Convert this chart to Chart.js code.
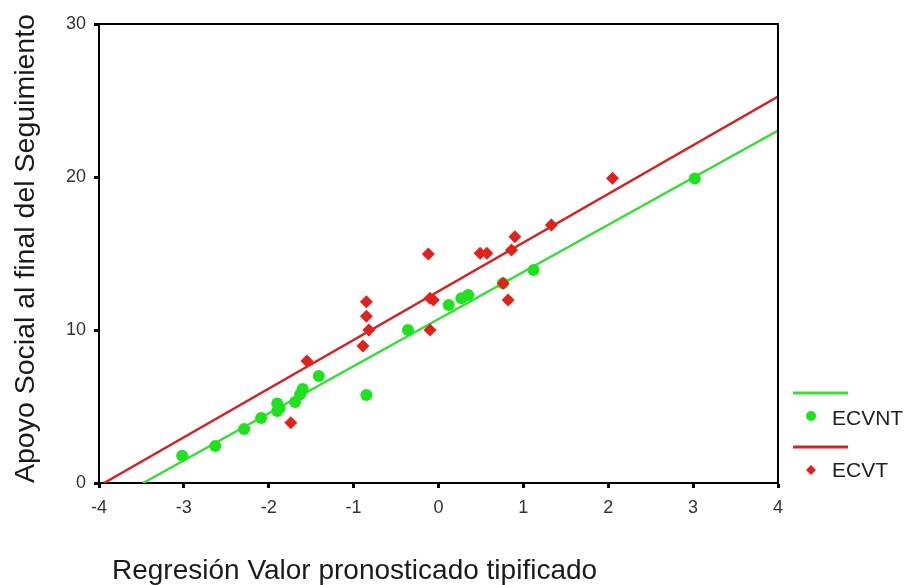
<!DOCTYPE html>
<html>
<head>
<meta charset="utf-8">
<script src="https://cdn.jsdelivr.net/npm/chart.js@4"></script>
<style>
  html, body { margin: 0; padding: 0; background: #fff; }
  #wrap { width: 908px; height: 585px; }
</style>
</head>
<body>
<div id="wrap"><canvas id="c" width="908" height="585"></canvas></div>
<script>
// ---- data ----
const xTickLabels = [-4, -3, -2, -1, 0, 1, 2, 3, 4];
const yTickLabels = [0, 10, 20, 30];

const ecvntX = [-3.02, -2.63, -2.29, -2.09, -1.90, -1.90, -1.87, -1.69, -1.60, -1.63, -1.41, -0.85, -0.36, 0.12, 0.27, 0.35, 0.76, 1.12, 3.02];
const ecvntY = [1.78, 2.42, 3.53, 4.25, 5.20, 4.70, 4.90, 5.30, 6.15, 5.80, 7.00, 5.75, 10.00, 11.63, 12.07, 12.29, 13.05, 13.92, 19.90];

const ecvtX = [-1.74, -1.55, -0.89, -0.82, -0.85, -0.85, -0.12, -0.10, -0.06, -0.10, 0.49, 0.57, 0.76, 0.82, 0.86, 0.90, 1.33, 2.05];
const ecvtY = [3.94, 7.97, 8.95, 10.00, 10.90, 11.85, 14.97, 12.07, 11.96, 10.00, 15.01, 15.01, 13.05, 11.96, 15.23, 16.10, 16.86, 19.92];

// fit-line end points
const fitEcvntX = [-3.48, 4];
const fitEcvntY = [0, 23.03];
const fitEcvtX = [-3.94, 4];
const fitEcvtY = [0, 25.25];

const seriesNames = ['ECVNT', 'ECVT'];
const xTitle = 'Regresión Valor pronosticado tipificado';
const yTitle = 'Apoyo Social al final del Seguimiento';

// ---- styling ----
const GREEN_PT = 'rgb(30, 226, 30)';
const GREEN_LN = 'rgb(60, 220, 60)';
const RED_PT = 'rgb(224, 34, 28)';
const RED_LN = 'rgb(204, 38, 38)';
const FONT = '"Liberation Sans", Arial, sans-serif';

const zip = (xs, ys) => xs.map((x, i) => ({ x: x, y: ys[i] }));

const framePlugin = {
  id: 'frame',
  afterDatasetsDraw(chart) {
    const { ctx, chartArea: a } = chart;
    ctx.save();
    ctx.strokeStyle = '#000';
    ctx.lineWidth = 2;
    ctx.beginPath();
    ctx.moveTo(a.left, a.top);
    ctx.lineTo(a.right, a.top);
    ctx.lineTo(a.right, a.bottom);
    ctx.stroke();
    ctx.restore();
  },
  afterDraw(chart) {
    const ctx = chart.ctx;
    ctx.save();
    // axis titles
    ctx.fillStyle = '#1a1a1a';
    ctx.font = '28px ' + FONT;
    ctx.textBaseline = 'alphabetic';
    ctx.textAlign = 'left';
    ctx.fillText(xTitle, 112, 579);
    ctx.font = '28.5px ' + FONT;
    ctx.translate(34, 483);
    ctx.rotate(-Math.PI / 2);
    ctx.fillText(yTitle, 0, 0);
    ctx.restore();

    // legend
    ctx.save();
    ctx.lineWidth = 3;
    ctx.strokeStyle = GREEN_LN;
    ctx.beginPath(); ctx.moveTo(793, 393); ctx.lineTo(848, 393); ctx.stroke();
    ctx.strokeStyle = RED_LN;
    ctx.beginPath(); ctx.moveTo(793, 447); ctx.lineTo(848, 447); ctx.stroke();
    ctx.fillStyle = GREEN_PT;
    ctx.beginPath(); ctx.arc(811, 416, 5, 0, Math.PI * 2); ctx.fill();
    ctx.fillStyle = RED_PT;
    ctx.beginPath();
    ctx.moveTo(811, 465); ctx.lineTo(816, 470); ctx.lineTo(811, 475); ctx.lineTo(806, 470);
    ctx.closePath(); ctx.fill();
    ctx.fillStyle = '#222';
    ctx.font = '21px ' + FONT;
    ctx.textBaseline = 'middle';
    ctx.fillText(seriesNames[0], 832, 419);
    ctx.fillText(seriesNames[1], 832, 471);
    ctx.restore();
  }
};

new Chart(document.getElementById('c'), {
  type: 'scatter',
  data: {
    datasets: [
      {
        label: seriesNames[1],
        data: zip(ecvtX, ecvtY),
        pointStyle: 'rectRot',
        pointRadius: 6.5,
        backgroundColor: RED_PT,
        borderColor: RED_PT,
        borderWidth: 0,
        order: 1
      },
      {
        label: seriesNames[0],
        data: zip(ecvntX, ecvntY),
        pointStyle: 'circle',
        pointRadius: 6,
        backgroundColor: GREEN_PT,
        borderColor: GREEN_PT,
        borderWidth: 0,
        order: 2
      },
      {
        type: 'line',
        label: 'fit ECVT',
        data: zip(fitEcvtX, fitEcvtY),
        borderColor: RED_LN,
        borderWidth: 2.5,
        pointRadius: 0,
        fill: false,
        order: 3
      },
      {
        type: 'line',
        label: 'fit ECVNT',
        data: zip(fitEcvntX, fitEcvntY),
        borderColor: GREEN_LN,
        borderWidth: 2.5,
        pointRadius: 0,
        fill: false,
        order: 4
      }
    ]
  },
  options: {
    responsive: false,
    animation: false,
    devicePixelRatio: 1,
    layout: { padding: { left: 0, top: 24, right: 130, bottom: 0 } },
    plugins: { legend: { display: false }, tooltip: { enabled: false }, title: { display: false } },
    scales: {
      x: {
        type: 'linear',
        min: -4, max: 4,
        afterBuildTicks: (s) => { s.ticks = xTickLabels.map(v => ({ value: v })); },
        afterFit: (s) => { s.height = 102; },
        ticks: { color: '#333', font: { family: FONT, size: 18 }, padding: 9 },
        grid: { display: true, drawOnChartArea: false, drawTicks: true, tickLength: 5, tickWidth: 3, tickColor: '#000' },
        border: { display: true, color: '#000', width: 2 },
        title: { display: false }
      },
      y: {
        type: 'linear',
        min: 0, max: 30,
        afterBuildTicks: (s) => { s.ticks = yTickLabels.map(v => ({ value: v })); },
        afterFit: (s) => { s.width = 99; },
        ticks: { color: '#333', font: { family: FONT, size: 18 }, padding: 8 },
        grid: { display: true, drawOnChartArea: false, drawTicks: true, tickLength: 5, tickWidth: 3, tickColor: '#000' },
        border: { display: true, color: '#000', width: 2 },
        title: { display: false }
      }
    }
  },
  plugins: [framePlugin]
});
</script>
</body>
</html>
